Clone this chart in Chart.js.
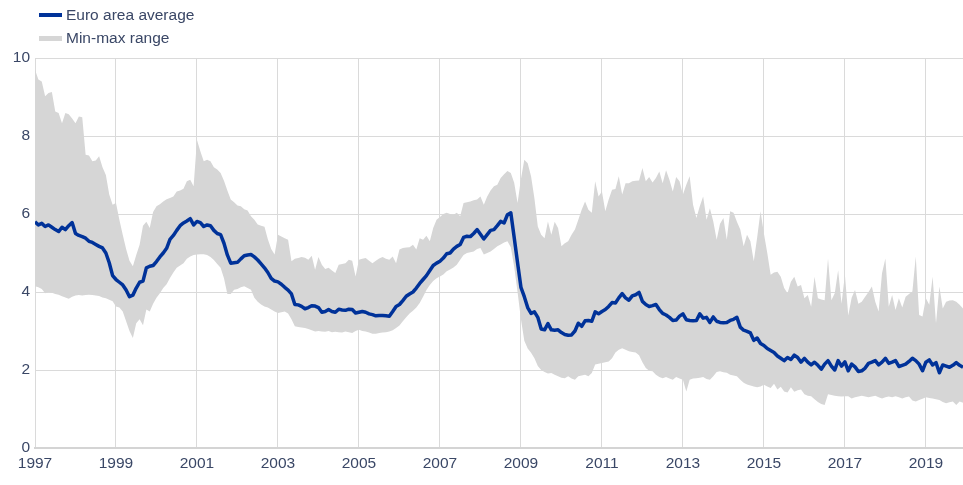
<!DOCTYPE html>
<html>
<head>
<meta charset="utf-8">
<script src="https://cdn.jsdelivr.net/npm/chart.js"></script>
<style>
  html, body { margin: 0; padding: 0; background: #fff; }
  #wrap { position: relative; width: 963px; height: 485px; font-family: "Liberation Sans", Arial, sans-serif; }
  .legend-item { position: absolute; left: 39px; height: 20px; line-height: 20px; font-size: 15.5px; color: #3a4766; white-space: nowrap; }
  .legend-item .swatch { position: absolute; left: 0; width: 23px; }
  .legend-item span.label { position: absolute; left: 27px; top: 0; }
</style>
</head>
<body>
<div id="wrap">
  <canvas id="chart" width="963" height="485"></canvas>
  <div class="legend-item" style="top:5px"><div class="swatch" style="top:8px;height:4px;background:#003299"></div><span class="label">Euro area average</span></div>
  <div class="legend-item" style="top:28px"><div class="swatch" style="top:8px;height:5px;background:#d6d6d6"></div><span class="label">Min-max range</span></div>
</div>
<script>
// monthly observations, Jan 1997 - Dec 2019
const startYear = 1997;
const xTickYears = [1997, 1999, 2001, 2003, 2005, 2007, 2009, 2011, 2013, 2015, 2017, 2019];

const euroAreaAverage = [
  5.8, 5.72, 5.76, 5.68, 5.72, 5.66, 5.6, 5.55, 5.66, 5.6, 5.7, 5.78,
  5.5, 5.45, 5.42, 5.38, 5.3, 5.27, 5.22, 5.17, 5.13, 5.0, 4.75, 4.42,
  4.32, 4.25, 4.18, 4.05, 3.88, 3.92, 4.1, 4.25, 4.28, 4.62, 4.66, 4.68,
  4.78, 4.9, 5.0, 5.12, 5.35, 5.45, 5.58, 5.7, 5.77, 5.82, 5.88, 5.72,
  5.81, 5.78, 5.68, 5.72, 5.7, 5.58, 5.5, 5.47, 5.25, 4.95, 4.74, 4.75,
  4.76, 4.85, 4.93, 4.95, 4.96, 4.9, 4.82, 4.72, 4.62, 4.5, 4.35, 4.28,
  4.26, 4.2, 4.12, 4.05, 3.95, 3.68, 3.67, 3.63, 3.57, 3.6, 3.65, 3.64,
  3.6, 3.48, 3.5, 3.55, 3.5, 3.48, 3.56, 3.54, 3.53, 3.56, 3.55, 3.46,
  3.48, 3.5, 3.48, 3.44, 3.42, 3.39, 3.4, 3.4, 3.39, 3.38, 3.5, 3.63,
  3.68, 3.78, 3.89, 3.95, 4.0, 4.1, 4.22, 4.32, 4.42, 4.55, 4.68, 4.74,
  4.79, 4.87, 4.98, 5.0, 5.1, 5.17, 5.22, 5.4, 5.43, 5.42, 5.5, 5.6,
  5.48, 5.36, 5.47, 5.58, 5.6, 5.7, 5.81, 5.77, 5.98, 6.03, 5.4, 4.75,
  4.12, 3.88, 3.6, 3.45, 3.49, 3.35, 3.05, 3.03, 3.19, 3.03, 3.02, 3.03,
  2.96, 2.91, 2.89, 2.9, 3.0, 3.2, 3.12, 3.26, 3.27, 3.25, 3.49, 3.44,
  3.5, 3.55, 3.63, 3.73, 3.72, 3.85, 3.96, 3.85, 3.79, 3.9, 3.93, 3.99,
  3.76, 3.68, 3.63, 3.65, 3.68, 3.55, 3.45, 3.41, 3.35, 3.27, 3.28, 3.38,
  3.44, 3.29, 3.27, 3.26, 3.27, 3.44, 3.33, 3.35, 3.22, 3.36, 3.25, 3.22,
  3.21, 3.22, 3.27, 3.3, 3.35, 3.1, 3.02, 2.99, 2.95, 2.76, 2.82, 2.68,
  2.63, 2.55, 2.5, 2.45, 2.36, 2.3, 2.24, 2.32, 2.27, 2.38, 2.32, 2.2,
  2.3, 2.2, 2.13, 2.2, 2.12, 2.02, 2.15, 2.24, 2.1, 2.0, 2.24, 2.1,
  2.21, 1.98, 2.15, 2.08, 1.96, 1.98, 2.05, 2.17, 2.2, 2.24, 2.13, 2.2,
  2.3, 2.17, 2.2, 2.24, 2.09, 2.12, 2.15, 2.22, 2.3, 2.24, 2.15, 1.98,
  2.2, 2.26, 2.13, 2.19, 1.93, 2.13, 2.1, 2.07, 2.12, 2.19, 2.12, 2.07
];

const rangeMax = [
  9.7, 9.45, 9.4, 9.02, 9.1, 9.13, 8.63, 8.59, 8.33, 8.59, 8.56, 8.45,
  8.33, 8.5, 8.48, 7.52, 7.5, 7.35, 7.37, 7.48, 7.2, 7.0, 6.5, 6.24,
  6.28, 5.85, 5.47, 5.1, 4.8, 4.66, 4.95, 5.21, 5.7, 5.8, 5.64, 6.05,
  6.2, 6.25, 6.32, 6.38, 6.41, 6.45, 6.58, 6.6, 6.65, 6.84, 6.88, 6.71,
  7.9, 7.61, 7.35, 7.39, 7.35, 7.2, 7.14, 7.05, 6.85, 6.6, 6.37, 6.3,
  6.22, 6.2, 6.12, 6.09, 5.94, 5.85, 5.73, 5.7, 5.67, 5.35, 5.1, 4.96,
  5.47, 5.42, 5.38, 5.34, 4.79, 4.85, 4.87, 4.9, 4.88, 4.83, 4.93, 4.57,
  4.9, 4.7, 4.59, 4.62, 4.55, 4.49, 4.7, 4.72, 4.74, 4.83, 4.8, 4.4,
  4.83, 4.85, 4.87, 4.8, 4.74, 4.8, 4.86, 4.9, 4.85, 4.83, 4.91, 4.74,
  5.09, 5.13, 5.14, 5.15, 5.21, 5.09, 5.38, 5.34, 5.44, 5.3, 5.64, 5.85,
  5.92, 6.0, 6.03, 6.0, 5.98, 6.03, 5.94, 6.28, 6.3, 6.32, 6.35, 6.37,
  6.45, 6.24, 6.45, 6.6, 6.71, 6.75, 6.92, 7.02, 7.1, 7.05, 6.8, 6.28,
  6.9, 7.39, 7.3, 6.97, 6.4, 5.68, 5.47, 5.38, 5.81, 5.47, 5.8, 5.64,
  5.17, 5.25, 5.3, 5.47, 5.6, 5.85, 6.11, 6.32, 6.11, 6.03, 6.84, 6.45,
  6.58, 6.07, 6.37, 6.62, 6.64, 6.97, 6.5, 6.79, 6.79, 6.84, 6.85, 6.86,
  7.18, 6.84, 6.95, 6.81, 6.92, 7.09, 6.79, 7.12, 6.88, 6.58, 6.95, 6.84,
  6.5, 6.75, 6.97, 6.24, 5.9, 6.2, 6.45, 5.85, 6.15, 5.81, 5.34, 5.75,
  5.9, 5.34, 6.07, 6.03, 5.8, 5.6, 5.17, 5.47, 5.3, 4.79, 5.4, 6.07,
  5.5, 5.0, 4.44, 4.5, 4.52, 4.39, 4.1, 3.97, 4.26, 4.39, 4.14, 4.18,
  3.84, 3.92, 3.62, 4.39, 3.84, 3.81, 3.79, 4.86, 3.79, 3.97, 4.56, 3.7,
  4.44, 3.4, 3.85, 4.05, 3.7, 3.75, 3.88, 4.0, 4.14, 3.75, 3.5, 4.48,
  4.86, 3.62, 3.92, 3.54, 3.84, 3.6, 3.88, 3.95, 4.01, 4.91, 3.41, 3.37,
  3.84, 3.67, 4.39, 3.2, 4.14, 3.58, 3.75, 3.78, 3.79, 3.75, 3.67, 3.58
];

const rangeMin = [
  4.15, 4.12, 4.08, 3.97, 4.0, 3.98, 3.95, 3.93, 3.89, 3.86, 3.83, 3.88,
  3.91, 3.92, 3.91, 3.92, 3.93, 3.92, 3.91, 3.9, 3.86, 3.84, 3.8, 3.76,
  3.63, 3.6, 3.5, 3.25, 3.0, 2.82, 3.2, 3.3, 3.15, 3.55, 3.5, 3.7,
  3.85, 3.97, 4.1, 4.2, 4.36, 4.5, 4.62, 4.68, 4.74, 4.85, 4.91, 4.95,
  4.96, 4.97, 4.97, 4.95, 4.9, 4.82, 4.72, 4.62, 4.35, 3.95, 3.95, 4.06,
  4.08, 4.12, 4.15, 4.1, 4.06, 3.85, 3.75, 3.68, 3.63, 3.6, 3.55, 3.5,
  3.46, 3.48, 3.5, 3.45, 3.3, 3.12, 3.1, 3.09, 3.08, 3.05, 3.02, 2.99,
  3.0, 2.99, 2.98, 3.0, 2.97, 2.98, 2.97, 2.96, 2.99, 2.97, 2.95, 3.0,
  3.03, 3.0, 2.99, 2.96, 2.93, 2.93, 2.95, 2.96, 2.97, 2.99, 3.02, 3.08,
  3.14, 3.25, 3.35, 3.45, 3.52, 3.6, 3.72, 3.88, 4.05, 4.18, 4.28, 4.35,
  4.4, 4.45, 4.53, 4.58, 4.63, 4.7, 4.83, 4.95, 5.0, 5.02, 5.04, 5.1,
  5.13, 4.96, 5.0, 5.04, 5.1, 5.17, 5.22, 5.27, 5.3, 5.15, 4.65, 4.0,
  3.3, 2.75, 2.55, 2.44, 2.3, 2.1, 2.0, 1.95, 1.91, 1.92, 1.88, 1.84,
  1.8, 1.79, 1.84, 1.78, 1.75, 1.84, 1.86, 1.88, 1.84, 1.92, 2.14, 2.16,
  2.18, 2.2, 2.22, 2.3, 2.45, 2.52, 2.56, 2.52, 2.48, 2.46, 2.45, 2.38,
  2.2, 2.05, 1.98, 1.97, 1.88, 1.82, 1.79, 1.82, 1.78, 1.75, 1.82, 1.78,
  1.75, 1.45, 1.75, 1.78, 1.79, 1.8, 1.82, 1.77, 1.75, 1.84, 1.95, 1.97,
  1.94, 1.93, 1.88, 1.86, 1.84, 1.75, 1.67, 1.63, 1.6, 1.58, 1.56, 1.58,
  1.62, 1.58, 1.54, 1.65, 1.5, 1.57, 1.45, 1.42, 1.56, 1.44, 1.48, 1.5,
  1.38, 1.34, 1.33, 1.25, 1.18, 1.13, 1.1, 1.38, 1.36, 1.34, 1.33, 1.32,
  1.33, 1.33, 1.27, 1.3, 1.32, 1.34, 1.32, 1.3, 1.32, 1.34, 1.3, 1.27,
  1.3, 1.32, 1.3, 1.33, 1.3, 1.27, 1.3, 1.32, 1.22, 1.19, 1.23, 1.26,
  1.3, 1.28, 1.27, 1.25, 1.23, 1.18, 1.15, 1.17, 1.19, 1.1, 1.19, 1.16
];

const yTicks = [0, 2, 4, 6, 8, 10];

// month i sits at startYear + i/12 on a linear x scale
const toPoints = arr => arr.map((v, i) => ({ x: startYear + i / 12, y: v }));
const lastX = startYear + (euroAreaAverage.length - 1) / 12;

const textColor = '#3a4766';
const gridColor = '#dadada';
const tickFont = { family: '"Liberation Sans", Arial, sans-serif', size: 15.5 };

new Chart(document.getElementById('chart').getContext('2d'), {
  type: 'line',
  data: {
    datasets: [
      {
        label: 'Euro area average',
        data: toPoints(euroAreaAverage),
        borderColor: '#003299',
        borderWidth: 3.5,
        borderJoinStyle: 'round',
        pointRadius: 0,
        fill: false,
        tension: 0
      },
      {
        label: 'Min-max range',
        data: toPoints(rangeMax),
        borderWidth: 0,
        borderColor: 'rgba(0,0,0,0)',
        backgroundColor: '#d6d6d6',
        pointRadius: 0,
        fill: '+1',
        tension: 0
      },
      {
        label: 'min',
        data: toPoints(rangeMin),
        borderWidth: 0,
        borderColor: 'rgba(0,0,0,0)',
        pointRadius: 0,
        fill: false,
        tension: 0
      }
    ]
  },
  options: {
    responsive: false,
    animation: false,
    devicePixelRatio: 1,
    layout: { padding: { top: 58, right: 0, left: 0, bottom: 0 } },
    plugins: {
      legend: { display: false },
      tooltip: { enabled: false }
    },
    scales: {
      x: {
        type: 'linear',
        min: startYear,
        max: lastX,
        afterBuildTicks: scale => { scale.ticks = xTickYears.map(v => ({ value: v })); },
        afterFit: scale => { scale.height = 37; },
        grid: { color: gridColor, lineWidth: 1, drawTicks: false },
        border: { color: '#d4d4d4', width: 2 },
        ticks: {
          color: textColor,
          font: tickFont,
          padding: 6,
          maxRotation: 0,
          autoSkip: false,
          callback: v => String(v)
        }
      },
      y: {
        min: 0,
        max: 10,
        afterBuildTicks: scale => { scale.ticks = yTicks.map(v => ({ value: v })); },
        afterFit: scale => { scale.width = 35; },
        grid: { color: gridColor, lineWidth: 1, drawTicks: false },
        border: { display: false },
        ticks: {
          color: textColor,
          font: tickFont,
          padding: 5,
          callback: v => String(v)
        }
      }
    }
  }
});
</script>
</body>
</html>
